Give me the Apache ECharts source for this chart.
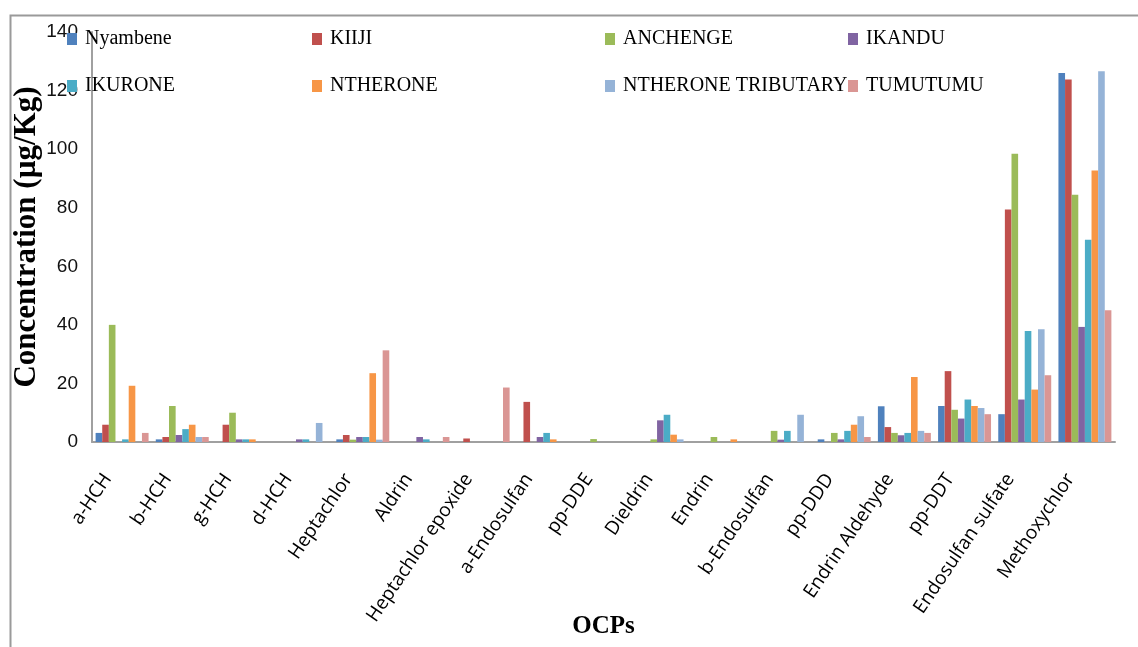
<!DOCTYPE html>
<html>
<head>
<meta charset="utf-8">
<script src="https://cdn.jsdelivr.net/npm/echarts/dist/echarts.min.js"></script>
<style>
html,body{margin:0;padding:0;background:#fff;}
#chart{width:1138px;height:647px;}
</style>
</head>
<body>
<div id="chart"></div>
<script>
const categories = ["a-HCH","b-HCH","g-HCH","d-HCH","Heptachlor","Aldrin","Heptachlor epoxide","a-Endosulfan","pp-DDE","Dieldrin","Endrin","b-Endosulfan","pp-DDD","Endrin Aldehyde","pp-DDT","Endosulfan sulfate","Methoxychlor"];
const seriesNames = ["Nyambene","KIIJI","ANCHENGE","IKANDU","IKURONE","NTHERONE","NTHERONE TRIBUTARY","TUMUTUMU"];
const nyambene  = [3.1, 0.9, 0, 0, 0.9, 0, 0, 0, 0, 0, 0, 0, 0.9, 12.2, 12.3, 9.5, 126];
const kiiji     = [5.9, 1.7, 5.9, 0, 2.4, 0, 1.2, 13.7, 0, 0, 0, 0, 0, 5.1, 24.2, 79.4, 123.8];
const anchenge  = [40, 12.3, 10, 0, 0.8, 0, 0, 0, 1.0, 0.9, 1.7, 3.8, 3.1, 3.1, 11.0, 98.4, 84.4];
const ikandu    = [0, 2.4, 0.9, 0.9, 1.7, 1.7, 0, 1.7, 0, 7.4, 0, 0.8, 0.9, 2.3, 8.0, 14.5, 39.3];
const ikurone   = [0.9, 4.4, 0.9, 0.9, 1.7, 0.9, 0, 3.1, 0, 9.3, 0, 3.8, 3.8, 3.1, 14.5, 37.9, 69.1];
const ntherone  = [19.2, 5.9, 0.9, 0, 23.5, 0, 0, 0.9, 0, 2.5, 0.9, 0, 5.9, 22.2, 12.3, 17.9, 92.7];
const ntheroneTributary = [0, 1.7, 0, 6.5, 0.8, 0, 0, 0, 0, 0.9, 0, 9.3, 8.8, 3.8, 11.6, 38.5, 126.6];
const tumutumu  = [3.1, 1.7, 0, 0, 31.3, 1.7, 18.6, 0, 0, 0, 0, 0, 1.7, 3.1, 9.5, 22.8, 45];
const allValues = [nyambene, kiiji, anchenge, ikandu, ikurone, ntherone, ntheroneTributary, tumutumu];
const colors = ["#4F81BD","#C0504D","#9BBB59","#8064A2","#4BACC6","#F79646","#95B3D7","#DA9694"];
const yTicks = {min: 0, max: 140, interval: 20};

const legendCols = [67, 312, 605, 848];
const legendRows = [29, 76];
const legends = seriesNames.map((n, i) => ({
  data: [n],
  left: legendCols[i % 4],
  top: legendRows[Math.floor(i / 4)],
  selectedMode: false,
  icon: 'rect',
  itemWidth: 10,
  itemHeight: 12,
  itemGap: 0,
  padding: 0,
  textStyle: {fontFamily: 'Liberation Serif', fontSize: 20, color: '#000', padding: [0,0,0,3]}
}));

const chart = echarts.init(document.getElementById('chart'), null, {renderer: 'canvas'});
chart.setOption({
  animation: false,
  backgroundColor: '#fff',
  color: colors,
  graphic: [{
    type: 'rect', left: 8, top: 13, z: -1,
    shape: {width: 1150, height: 660},
    style: {fill: 'none', stroke: '#9a9a9a', lineWidth: 2}
  }],
  legend: legends,
  grid: {left: 92, right: 23, top: 32, bottom: 205, containLabel: false, outerBoundsMode: 'none'},
  xAxis: {
    type: 'category',
    data: categories,
    name: 'OCPs',
    nameLocation: 'middle',
    nameGap: 172,
    nameMoveOverlap: false,
    nameTextStyle: {fontFamily: 'Liberation Serif', fontWeight: 'bold', fontSize: 25, color: '#000'},
    axisLine: {lineStyle: {color: '#a0a0a0', width: 2}},
    axisTick: {show: false},
    axisLabel: {interval: 0, rotate: 56, margin: 12, padding: [0, 26, 0, 0], fontFamily: 'Open Sans', fontSize: 19, color: '#000'}
  },
  yAxis: {
    type: 'value',
    min: yTicks.min, max: yTicks.max, interval: yTicks.interval,
    name: 'Concentration (µg/Kg)',
    nameLocation: 'middle',
    nameGap: 50,
    nameMoveOverlap: false,
    nameTextStyle: {fontFamily: 'Liberation Serif', fontWeight: 'bold', fontSize: 31, color: '#000'},
    axisLine: {show: true, lineStyle: {color: '#a0a0a0', width: 2}},
    axisTick: {show: false},
    splitLine: {show: false},
    axisLabel: {margin: 14, fontFamily: 'Liberation Sans', fontSize: 19, color: '#111'}
  },
  series: seriesNames.map((n, i) => ({
    name: n,
    type: 'bar',
    data: allValues[i],
    barGap: '0%',
    barCategoryGap: '12%',
    itemStyle: {color: colors[i]}
  }))
});
</script>
</body>
</html>
